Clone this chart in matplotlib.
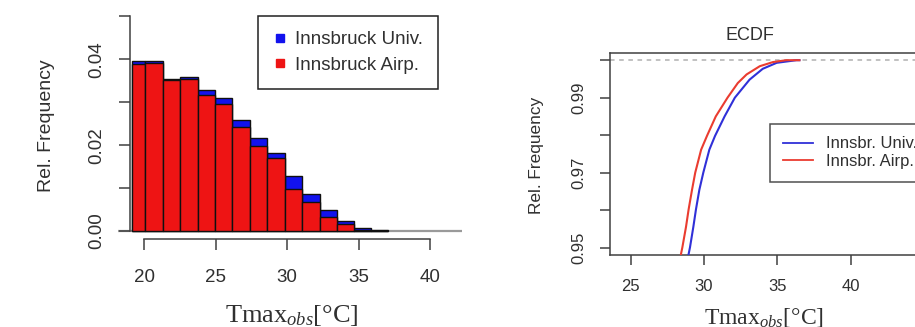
import numpy as np
import matplotlib
matplotlib.use("Agg")
import matplotlib.pyplot as plt
from matplotlib.lines import Line2D

plt.rcParams['font.family'] = ['Liberation Sans', 'DejaVu Sans']
plt.rcParams['mathtext.fontset'] = 'custom'
plt.rcParams['mathtext.rm'] = 'Liberation Serif'
plt.rcParams['mathtext.it'] = 'Liberation Serif:italic'

# ---------------- data ----------------
bin_edges = [19.11, 20.05, 21.28, 22.50, 23.73, 24.95, 26.16, 27.40, 28.61,
             29.85, 31.06, 32.30, 33.47, 34.68, 35.87, 37.08]
univ_freq = [0.0396, 0.0395, 0.0354, 0.0358, 0.0328, 0.0311, 0.0259, 0.0216,
             0.0182, 0.0127, 0.0086, 0.0049, 0.0023, 0.0008, 0.0003]
airp_freq = [0.0388, 0.0392, 0.0351, 0.0355, 0.0317, 0.0297, 0.0243, 0.0198,
             0.0170, 0.0097, 0.0068, 0.0032, 0.0016, 0.0003, 0.0001]

hist_xticks = [20, 25, 30, 35, 40]
hist_yticks = [0.00, 0.01, 0.02, 0.03, 0.04, 0.05]
hist_ylabels = ['0.00', '', '0.02', '', '0.04', '']

ecdf_airp_x = [28.41, 28.52, 28.77, 28.95, 29.18, 29.40, 29.80, 30.20, 30.80,
               31.60, 32.30, 32.90, 33.80, 34.70, 35.60, 36.50]
ecdf_airp_F = [0.9479, 0.9500, 0.9555, 0.9602, 0.9654, 0.9700, 0.9761, 0.9798,
               0.9850, 0.9900, 0.9939, 0.9962, 0.9984, 0.9995, 1.0, 1.0]
ecdf_univ_x = [28.93, 29.04, 29.27, 29.45, 29.68, 29.95, 30.36, 30.75, 31.40,
               32.10, 33.10, 34.00, 34.95, 36.30, 36.50]
ecdf_univ_F = [0.9479, 0.9500, 0.9555, 0.9602, 0.9654, 0.9700, 0.9761, 0.9798,
               0.9850, 0.9900, 0.9948, 0.9977, 0.9993, 1.0, 1.0]

ecdf_xticks = [25, 30, 35, 40]
ecdf_yticks = [0.95, 0.96, 0.97, 0.98, 0.99, 1.00]
ecdf_ylabels = ['0.95', '', '0.97', '', '0.99', '']

labels_hist = ['Innsbruck Univ.', 'Innsbruck Airp.']
labels_ecdf = ['Innsbr. Univ.', 'Innsbr. Airp.']

# ---------------- figure ----------------
W, H = 915, 327
fig = plt.figure(figsize=(W / 100, H / 100), dpi=100)

def fx(px):
    return px / W

def fy(py):
    return 1 - py / H

txt = '#303030'
spc = '#404040'
BLUE = '#1212ee'
RED = '#ee1414'

# ---------- left: histogram ----------
axL = fig.add_axes([fx(118), fy(239), fx(462 - 118), (239 - 14) / H])
axL.set_xlim(18.157, 42.24)
axL.set_ylim(-0.001864, 0.05056)
edges = np.array(bin_edges)
widths = np.diff(edges)
axL.axhline(0, color='#9a9a9a', lw=1.6, zorder=1)
axL.bar(edges[:-1], univ_freq, width=widths, align='edge', color=BLUE,
        edgecolor='#101010', lw=1.0, zorder=2)
axL.bar(edges[:-1], airp_freq, width=widths, align='edge', color=RED,
        edgecolor='#101010', lw=1.0, zorder=3)

for s in ['top', 'right']:
    axL.spines[s].set_visible(False)
axL.spines['left'].set_position(('data', 19.0))
axL.spines['left'].set_bounds(0, 0.05)
axL.spines['bottom'].set_bounds(20, 40)
for s in ['left', 'bottom']:
    axL.spines[s].set_color(spc)
    axL.spines[s].set_linewidth(1.1)
axL.set_xticks(hist_xticks)
axL.set_xticklabels([str(t) for t in hist_xticks])
axL.set_yticks(hist_yticks)
axL.set_yticklabels(hist_ylabels, rotation=90, va='center')
axL.tick_params(axis='both', direction='out', length=8, width=1.1,
                color=spc, labelcolor=txt, labelsize=13.5)
axL.tick_params(axis='x', pad=13.5)
axL.tick_params(axis='y', pad=10)

handlesL = [Line2D([], [], marker='s', ls='none', color=BLUE, markersize=5.5),
            Line2D([], [], marker='s', ls='none', color=RED, markersize=5.5)]
legL = axL.legend(handlesL, labels_hist, loc='upper left',
                  bbox_to_anchor=(fx(258), fy(16)), bbox_transform=fig.transFigure,
                  borderaxespad=0, fancybox=False, framealpha=1,
                  edgecolor='#202020', fontsize=13.5, handlelength=0.7,
                  handletextpad=0.45, borderpad=0.8, labelspacing=0.45)
legL.get_frame().set_linewidth(1.1)
for t in legL.get_texts():
    t.set_color(txt)

fig.text(fx(46.7), fy(126), 'Rel. Frequency', rotation=90, ha='center',
         va='center', fontsize=14, color=txt)
fig.text(fx(292), fy(321.5), r'$\mathrm{Tmax}_{obs}\mathrm{[°C]}$',
         ha='center', va='baseline', fontsize=19, color=txt)

# ---------- right: ECDF ----------
axR = fig.add_axes([fx(610), fy(255), fx(930 - 610), (255 - 52.7) / H])
axR.set_xlim(23.59, 45.40)
axR.set_ylim(0.948, 1.002)
axR.axhline(1.0, color='#b0b0b0', lw=1.1, ls=(0, (3, 3)), zorder=1)
axR.plot(ecdf_univ_x, ecdf_univ_F, color='#3030d8', lw=1.5, zorder=3)
axR.plot(ecdf_airp_x, ecdf_airp_F, color='#ea3c30', lw=1.5, zorder=3)
for s in axR.spines.values():
    s.set_color(spc)
    s.set_linewidth(1.1)
axR.set_xticks(ecdf_xticks)
axR.set_xticklabels([str(t) for t in ecdf_xticks])
axR.set_yticks(ecdf_yticks)
axR.set_yticklabels(ecdf_ylabels, rotation=90, va='center')
axR.tick_params(axis='both', direction='out', length=7, width=1.1,
                color=spc, labelcolor=txt, labelsize=12)
axR.tick_params(axis='x', pad=10.5)
axR.tick_params(axis='y', pad=10)

handlesR = [Line2D([], [], color='#3030d8', lw=1.3),
            Line2D([], [], color='#ea3c30', lw=1.3)]
legR = axR.legend(handlesR, labels_ecdf, loc='upper left',
                  bbox_to_anchor=(fx(770), fy(124)), bbox_transform=fig.transFigure,
                  borderaxespad=0, fancybox=False, framealpha=1,
                  edgecolor='#505050', fontsize=12, handlelength=1.8,
                  handletextpad=0.8, borderpad=0.75, labelspacing=0.15)
legR.get_frame().set_linewidth(1.1)
for t in legR.get_texts():
    t.set_color(txt)

fig.text(fx(750), fy(36), 'ECDF', ha='center', va='center', fontsize=13,
         color=txt)
fig.text(fx(536.7), fy(155), 'Rel. Frequency', rotation=90, ha='center',
         va='center', fontsize=12.4, color=txt)
fig.text(fx(764), fy(323.5), r'$\mathrm{Tmax}_{obs}\mathrm{[°C]}$',
         ha='center', va='baseline', fontsize=17, color=txt)

fig.savefig('out.png', dpi=100)
